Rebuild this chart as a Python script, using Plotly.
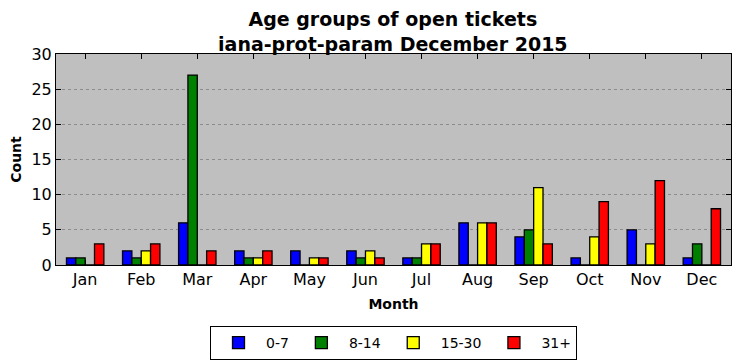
import plotly.graph_objects as go

months = ["Jan", "Feb", "Mar", "Apr", "May", "Jun", "Jul", "Aug", "Sep", "Oct", "Nov", "Dec"]
age_0_7 = [1, 2, 6, 2, 2, 2, 1, 6, 4, 1, 5, 1]
age_8_14 = [1, 1, 27, 1, 0, 1, 1, 0, 5, 0, 0, 3]
age_15_30 = [0, 2, 0, 1, 1, 2, 3, 6, 11, 4, 3, 0]
age_31_plus = [3, 3, 2, 2, 1, 1, 3, 6, 3, 9, 12, 8]

series = [("0-7", age_0_7, "#0000ff"), ("8-14", age_8_14, "#008000"),
          ("15-30", age_15_30, "#ffff00"), ("31+", age_31_plus, "#ff0000")]

fig = go.Figure()
for name, vals, color in series:
    fig.add_trace(go.Bar(x=list(range(len(months))), y=vals, name=name,
                         marker=dict(color=color, line=dict(color="black", width=1.3))))

font = "DejaVu Sans"
fig.update_layout(
    width=733, height=353,
    margin=dict(l=48, r=10, t=46, b=96, autoexpand=False),
    paper_bgcolor="white", plot_bgcolor="#bfbfbf",
    barmode="group", bargap=0.333, bargroupgap=0,
    font=dict(family=font, color="black", size=16),
    title=dict(text="<b>Age groups of open tickets<br>iana-prot-param December 2015</b>",
               x=0.525, xanchor="center", yref="container", y=0.949, yanchor="middle",
               font=dict(family=font, size=19)),
    legend=dict(orientation="h", x=0.5, xanchor="center", y=-0.289, yanchor="top",
                bordercolor="black", borderwidth=1, font=dict(size=14),
                itemwidth=45, tracegroupgap=0),
    showlegend=True,
)
fig.update_xaxes(range=[-0.52, 11.52], tickmode="array", tickvals=list(range(12)), ticktext=months,
                 ticks="inside", ticklen=5, tickcolor="black", mirror="ticks", automargin=False,
                 showline=True, linecolor="black", linewidth=1, showgrid=False, zeroline=False,
                 title=dict(text="<b>Month</b>", font=dict(size=14), standoff=10))
fig.update_yaxes(range=[0, 30], dtick=5, ticks="inside", ticklen=5, tickcolor="black", mirror="ticks",
                 showline=True, linecolor="black", linewidth=1, automargin=False,
                 showgrid=True, gridcolor="#8c8c8c", griddash="dot", gridwidth=1, zeroline=False,
                 title=dict(text="<b>Count</b>", font=dict(size=14), standoff=6))
fig.write_html("out.html")
